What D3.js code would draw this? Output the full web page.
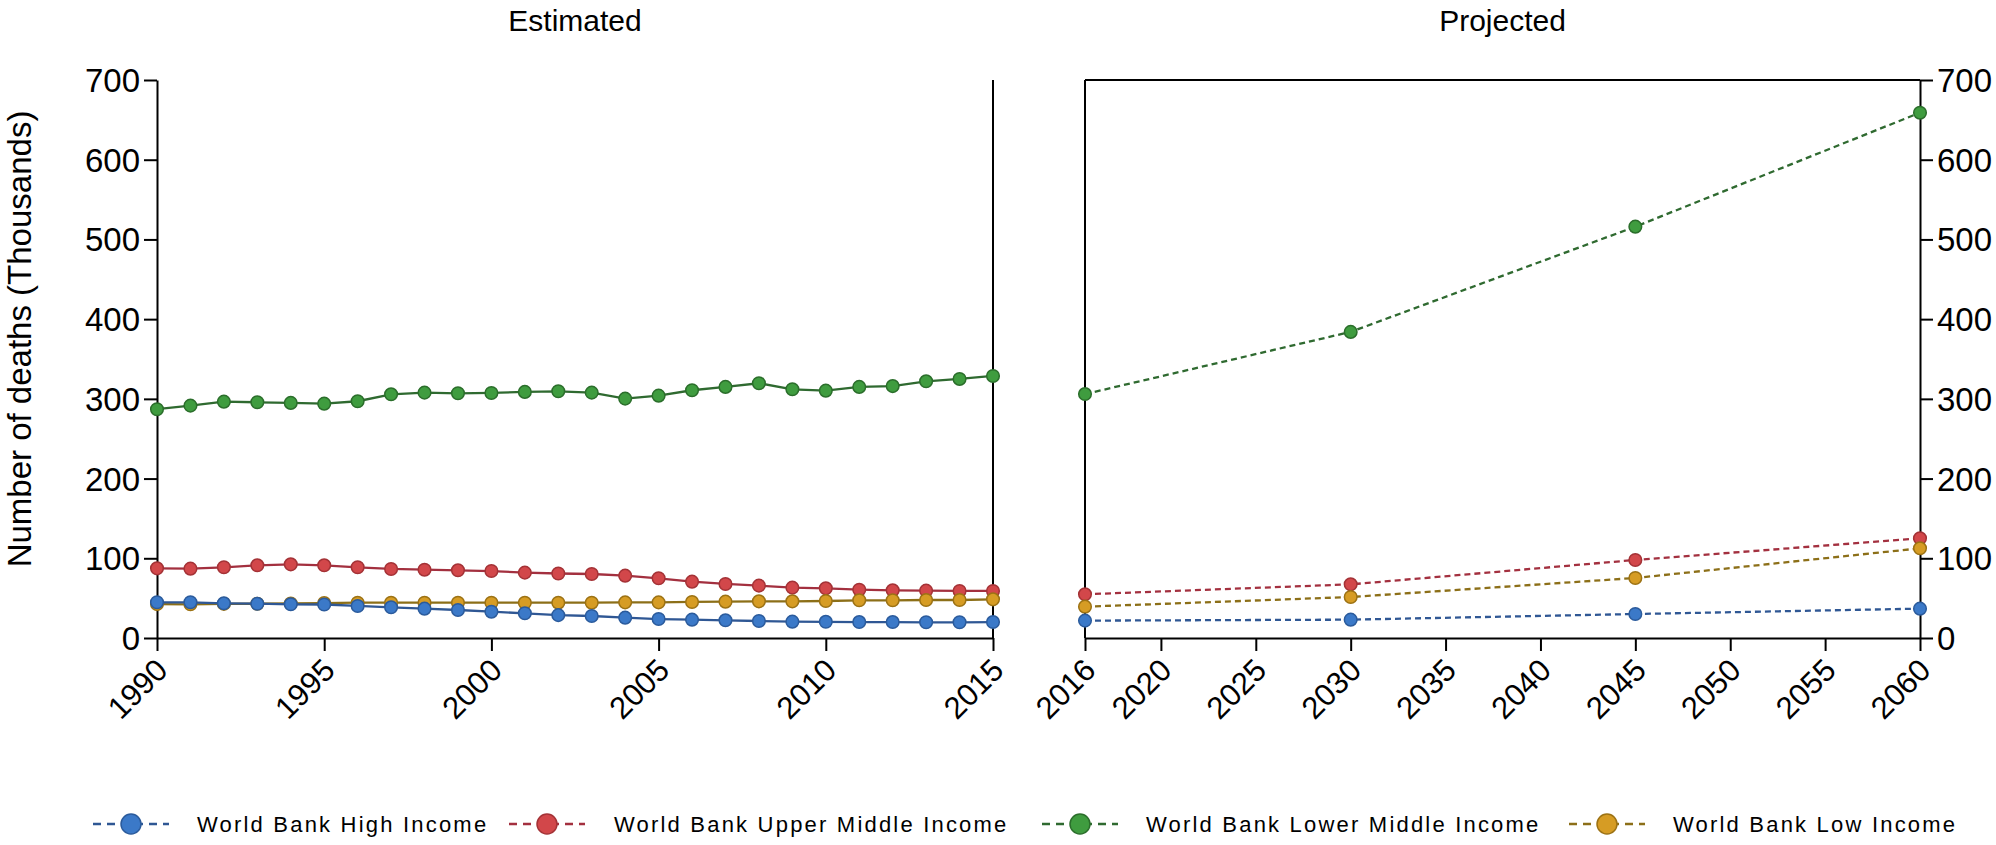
<!DOCTYPE html>
<html>
<head>
<meta charset="utf-8">
<script src="https://cdn.jsdelivr.net/npm/d3@7.9.0/dist/d3.min.js"></script>
<style>
  body { margin: 0; background: #fff; }
  svg { display: block; font-family: "Liberation Sans", Arial, sans-serif; }
</style>
</head>
<body>
<div id="chart"></div>
<script>
// DATA
const estYears = [1990, 1991, 1992, 1993, 1994, 1995, 1996, 1997, 1998, 1999, 2000, 2001, 2002,
  2003, 2004, 2005, 2006, 2007, 2008, 2009, 2010, 2011, 2012, 2013, 2014, 2015];
const estHigh = [44.8, 44.8, 43.5, 43, 42.3, 42, 40.2, 38.5, 36.8, 35.1, 33, 31, 28.7,
  27.6, 25.5, 23.8, 23, 22.2, 21.3, 20.5, 20.3, 20, 20, 19.7, 19.7, 20];
const estUpperMid = [87.4, 87, 88.7, 91.2, 92.4, 91.2, 88.7, 86.6, 85.7, 84.9, 84, 82, 80.9,
  80.3, 78.2, 74.9, 70.7, 67.8, 65.7, 63.2, 62.3, 60.6, 59.8, 59.4, 59, 59];
const estLowerMid = [287, 291.5, 296.5, 295.7, 294.9, 294, 297, 305.7, 307.8, 307, 307.4, 308.7, 309.5,
  307.8, 300.3, 304, 310.8, 315, 319.6, 312, 310.3, 315, 316, 322, 325, 328.7];
const estLow = [42.5, 42.3, 42.8, 43, 43.3, 43.8, 44.3, 44.3, 44.3, 44.3, 44.3, 44.3, 44.3,
  44.3, 44.7, 44.7, 45.2, 45.6, 46, 46, 46.4, 47.3, 47.3, 47.7, 47.7, 48.5];

const projYears = [2016, 2030, 2045, 2060];
const projHigh = [21.8, 23, 30.1, 36.8];
const projUpperMid = [54.8, 67.3, 97.9, 125];
const projLowerMid = [306, 384, 516, 659];
const projLow = [39.3, 51.4, 75.3, 112.5];

const estTicks = [1990, 1995, 2000, 2005, 2010, 2015];
const projTicks = [2016, 2020, 2025, 2030, 2035, 2040, 2045, 2050, 2055, 2060];
const yTicks = [0, 100, 200, 300, 400, 500, 600, 700];

const seriesNames = ['World Bank High Income', 'World Bank Upper Middle Income',
  'World Bank Lower Middle Income', 'World Bank Low Income'];

// STYLE
const styles = [
  { fill: '#3b79c8', stroke: '#2b5b9c', line: '#2f5794' },
  { fill: '#d2474a', stroke: '#a43236', line: '#a3303f' },
  { fill: '#3f9c3f', stroke: '#2b6e2b', line: '#2f6a30' },
  { fill: '#d69c24', stroke: '#9c7214', line: '#8c6f18' }
];

const W = 1996, H = 845;
const plotTop = 80, plotBottom = 638;
const leftPanel = { x0: 157, x1: 993 };
const rightPanel = { x0: 1085, x1: 1920 };

const svg = d3.select('#chart').append('svg')
  .attr('width', W).attr('height', H);

const y = d3.scaleLinear().domain([0, 700]).range([plotBottom, plotTop]);
const xL = d3.scaleLinear().domain([1990, 2015]).range([leftPanel.x0, leftPanel.x1]);
const xR = d3.scaleLinear().domain([2016, 2060]).range([rightPanel.x0, rightPanel.x1]);

function styleAxis(g) {
  g.select('.domain').attr('stroke', '#000').attr('stroke-width', 2);
  g.selectAll('.tick line').attr('stroke', '#000').attr('stroke-width', 2);
  g.selectAll('.tick text').attr('fill', '#000').style('font-size', '33px');
}

// Y axis left
svg.append('g')
  .attr('transform', `translate(${leftPanel.x0},0)`)
  .call(d3.axisLeft(y).tickValues(yTicks).tickSize(13).tickPadding(4).tickSizeOuter(0))
  .call(styleAxis)
  .selectAll('.tick text').attr('dy', '0.35em');

// Y axis right
svg.append('g')
  .attr('transform', `translate(${rightPanel.x1},0)`)
  .call(d3.axisRight(y).tickValues(yTicks).tickSize(13).tickPadding(4).tickSizeOuter(0))
  .call(styleAxis)
  .selectAll('.tick text').attr('dy', '0.35em');

function xAxis(scale, ticks) {
  const g = svg.append('g')
    .attr('transform', `translate(0,${plotBottom})`)
    .call(d3.axisBottom(scale).tickValues(ticks).tickFormat(d3.format('d'))
      .tickSize(13).tickSizeOuter(0))
    .call(styleAxis);
  g.selectAll('.tick text')
    .style('font-size', '31px')
    .attr('text-anchor', 'end')
    .attr('y', 0).attr('dy', 0)
    .attr('transform', 'translate(12,34) rotate(-45)');
  return g;
}
xAxis(xL, estTicks);
xAxis(xR, projTicks);

// panel frame lines
svg.append('line')
  .attr('x1', leftPanel.x1).attr('x2', leftPanel.x1).attr('y1', plotTop).attr('y2', plotBottom)
  .attr('stroke', '#000').attr('stroke-width', 2);
svg.append('line')
  .attr('x1', rightPanel.x0).attr('x2', rightPanel.x0).attr('y1', plotTop).attr('y2', plotBottom)
  .attr('stroke', '#000').attr('stroke-width', 2);
svg.append('line')
  .attr('x1', rightPanel.x0).attr('x2', rightPanel.x1).attr('y1', plotTop).attr('y2', plotTop)
  .attr('stroke', '#000').attr('stroke-width', 2);

// titles
svg.append('text').attr('x', (leftPanel.x0 + leftPanel.x1) / 2).attr('y', 31)
  .attr('text-anchor', 'middle').style('font-size', '30px').text('Estimated');
svg.append('text').attr('x', (rightPanel.x0 + rightPanel.x1) / 2).attr('y', 31)
  .attr('text-anchor', 'middle').style('font-size', '30px').text('Projected');

svg.append('text')
  .attr('transform', `translate(31,339) rotate(-90)`)
  .attr('text-anchor', 'middle')
  .style('font-size', '33px')
  .text('Number of deaths (Thousands)');

// SERIES
const est = [estHigh, estUpperMid, estLowerMid, estLow];
const proj = [projHigh, projUpperMid, projLowerMid, projLow];
const order = [1, 3, 0, 2];

function drawSeries(years, vals, x, dashed, s) {
  const pts = years.map((yr, i) => [yr, vals[i]]);
  const line = d3.line().x(d => x(d[0])).y(d => y(d[1]));
  svg.append('path')
    .datum(pts)
    .attr('d', line)
    .attr('fill', 'none')
    .attr('stroke', s.line)
    .attr('stroke-width', 2.3)
    .attr('stroke-dasharray', dashed ? '6,4' : null);
  svg.append('g').selectAll('circle')
    .data(pts)
    .join('circle')
    .attr('cx', d => x(d[0]))
    .attr('cy', d => y(d[1]))
    .attr('r', 6.3)
    .attr('fill', s.fill)
    .attr('stroke', s.stroke)
    .attr('stroke-width', 1.5);
}

order.forEach(i => {
  drawSeries(estYears, est[i], xL, false, styles[i]);
  drawSeries(projYears, proj[i], xR, true, styles[i]);
});

// LEGEND
const legendCx = [131, 547, 1080, 1607];
const legendTextX = [197, 614, 1146, 1673];
const legendY = 824;
seriesNames.forEach((name, i) => {
  const s = styles[i];
  const g = svg.append('g').attr('transform', `translate(${legendCx[i]},${legendY})`);
  g.append('line').attr('x1', -38).attr('x2', 38).attr('y1', 0).attr('y2', 0)
    .attr('stroke', s.line).attr('stroke-width', 2.5).attr('stroke-dasharray', '8,6');
  g.append('circle').attr('cx', 0).attr('cy', 0).attr('r', 10)
    .attr('fill', s.fill).attr('stroke', s.stroke).attr('stroke-width', 1.5);
  svg.append('text').attr('x', legendTextX[i]).attr('y', legendY).attr('dy', '0.35em')
    .style('font-size', '22px').style('letter-spacing', '2.2px')
    .text(name);
});
</script>
</body>
</html>
